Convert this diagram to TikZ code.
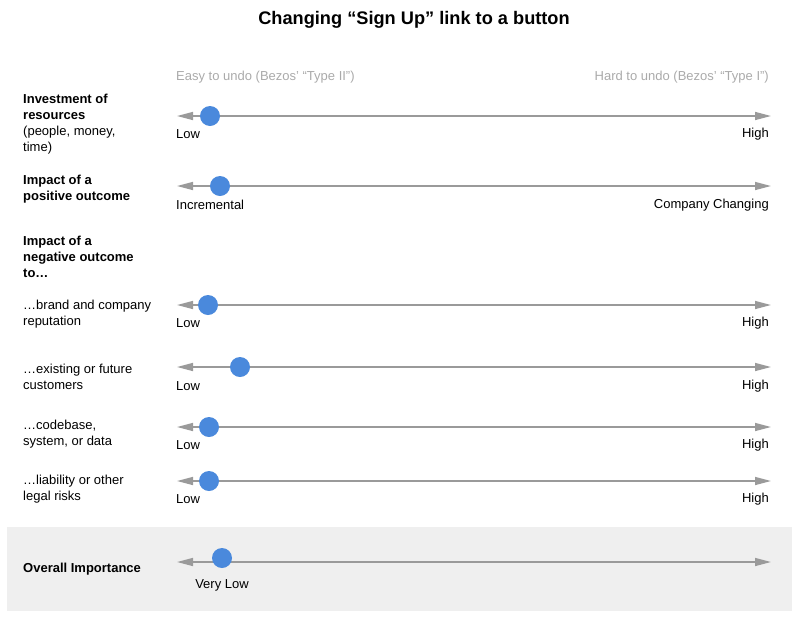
\documentclass[tikz,border=0pt]{standalone}
\usepackage{fontspec}
\setmainfont{Liberation Sans}
\usetikzlibrary{arrows.meta}
\definecolor{axisgray}{HTML}{9A9A9A}
\definecolor{hdrgray}{HTML}{AAAAAA}
\definecolor{dotblue}{HTML}{4A89DC}
\definecolor{boxgray}{HTML}{EFEFEF}
\newcommand{\sq}{{\char"27}}
\begin{document}
\begin{tikzpicture}[x=1pt,y=-1pt,
  axis/.style={draw=axisgray,line width=1.5pt,{Triangle[length=16pt,width=8pt]}-{Triangle[length=16pt,width=8pt]}},
  dot/.style={circle,fill=dotblue,inner sep=0pt,minimum size=20pt},
  lbl/.style={inner sep=0pt,font=\fontsize{13}{16}\selectfont,align=left,anchor=west},
  rowhead/.style={lbl,font=\fontsize{13}{16}\selectfont\bfseries},
  endlbl/.style={inner sep=0pt,font=\fontsize{13}{15}\selectfont},
  hdr/.style={inner sep=0pt,font=\fontsize{13}{15}\selectfont,text=hdrgray}]
\useasboundingbox (0,0) rectangle (800,619);
\fill[boxgray] (7,527) rectangle (792,611);
\node[inner sep=0pt,font=\fontsize{18.2}{20}\selectfont\bfseries] (title) at (414,20) {Changing “Sign Up” link to a button};
\node[hdr,anchor=west] (easy) at (176,77) {Easy to undo (Bezos\sq\ “Type II”)};
\node[hdr,anchor=east] (hard) at (769,77) {Hard to undo (Bezos\sq\ “Type I”)};
% row labels
\node[rowhead] (h1) at (23,124) {Investment of\\resources\\{\mdseries(people, money,}\\{\mdseries time)}};
\node[rowhead] (h2) at (23,189) {Impact of a\\positive outcome};
\node[rowhead] (h3) at (23,257) {Impact of a\\negative outcome\\to…};
\node[lbl] (h4) at (23,314) {…brand and company\\reputation};
\node[lbl] (h5) at (23,377) {…existing or future\\customers};
\node[lbl] (h6) at (23,434) {…codebase,\\system, or data};
\node[lbl] (h7) at (23,489) {…liability or other\\legal risks};
\node[rowhead] (h8) at (23,569) {Overall Importance};
% axes
\foreach \n/\y in {1/116,2/186,4/305,5/367,6/427,7/481,8/562}{
  \coordinate (L\n) at (177,\y);
  \coordinate (R\n) at (771,\y);
  \draw[axis] (L\n) -- (R\n);
}
\node[dot] (d1) at (210,116) {};
\node[dot] (d2) at (220,186) {};
\node[dot] (d4) at (208,305) {};
\node[dot] (d5) at (240,367) {};
\node[dot] (d6) at (209,427) {};
\node[dot] (d7) at (209,481) {};
\node[dot] (d8) at (222,558) {};
% end labels
\foreach \n/\y in {1/134,4/323,5/386,6/445,7/499}{
  \node[endlbl,anchor=west] (lo\n) at (176,\y) {Low};
  \node[endlbl,anchor=east] (hi\n) at (769,\y) {High};
}
\node[endlbl,anchor=west] (lo2) at (176,205) {Incremental};
\node[endlbl,anchor=east] (hi2) at (769,205) {Company Changing};
\node[endlbl] (lo8) at (222,585) {Very Low};
\end{tikzpicture}
\end{document}
